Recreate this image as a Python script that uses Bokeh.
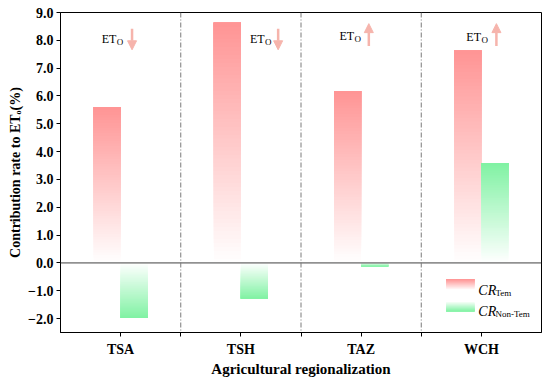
from bokeh.plotting import figure
from bokeh.models import (Range1d, FixedTicker, CustomJSTickFormatter, Span, Label,
                          Arrow, NormalHead, ColumnDataSource)
from bokeh.embed import file_html
from bokeh.resources import INLINE

# ---------------- data ----------------
regions = ["TSA", "TSH", "TAZ", "WCH"]
cr_tem = [5.60, 8.63, 6.18, 7.63]
cr_non_tem = [-1.98, -1.28, -0.12, 3.59]
eto_trend = ["down", "down", "up", "up"]
y_ticks = [-2, -1, 0, 1, 2, 3, 4, 5, 6, 7, 8, 9]

# ---------------- style ----------------
RED = (255, 148, 148)
GREEN = (128, 242, 163)
ARROW_C = "#F6B4AC"
FONT = "Liberation Serif"
BAR_W = 0.225
N = 60

p = figure(width=550, height=382, x_range=Range1d(0, 4), y_range=Range1d(-2.5, 9.0),
           output_backend="svg", toolbar_location=None,
           min_border_left=60, min_border_right=9, min_border_top=12, min_border_bottom=50)
p.grid.visible = False
p.outline_line_color = "black"
p.outline_line_width = 1
p.outline_line_alpha = 1
p.background_fill_color = "white"
p.border_fill_color = "white"


def mix(rgb, t):
    r = int(round(255 + (rgb[0] - 255) * t))
    g = int(round(255 + (rgb[1] - 255) * t))
    b = int(round(255 + (rgb[2] - 255) * t))
    return "#%02x%02x%02x" % (r, g, b)


def gradient(rows, left, right, y_white, y_solid, rgb, n=N, t0=0.0):
    for i in range(n):
        t = t0 + (1 - t0) * (i + 0.5) / n
        yb = y_white + (y_solid - y_white) * i / n
        rows["left"].append(left)
        rows["right"].append(right)
        rows["bottom"].append(min(yb, y_solid))
        rows["top"].append(max(yb, y_solid))
        rows["color"].append(mix(rgb, t))


rows = dict(left=[], right=[], bottom=[], top=[], color=[])
for k, vt in enumerate(cr_tem):
    c = k + 0.5
    gradient(rows, c - BAR_W, c, 0.0, vt, RED)
for k, vn in enumerate(cr_non_tem):
    c = k + 0.5
    gradient(rows, c, c + BAR_W, 0.0, vn, GREEN)

# legend swatches
gradient(rows, 3.208, 3.442, -0.95, -0.59, RED, n=30, t0=0.05)
gradient(rows, 3.208, 3.442, -1.40, -1.74, GREEN, n=30, t0=0.05)

p.quad(left="left", right="right", bottom="bottom", top="top", fill_color="color",
       line_color=None, source=ColumnDataSource(rows))

# zero line and separators
p.add_layout(Span(location=0, dimension="width", line_color="#404040", line_width=1))
for s in [1, 2, 3]:
    p.add_layout(Span(location=s, dimension="height", line_color="#7a7a7a",
                      line_width=1, line_dash="5 2 1 2"))

# axes
p.xaxis.ticker = FixedTicker(ticks=[0.5, 1, 1.5, 2, 2.5, 3, 3.5])
p.xaxis.formatter = CustomJSTickFormatter(args=dict(labels=regions), code="""
const i = tick - 0.5;
return Number.isInteger(i) ? labels[i] : '';
""")
p.yaxis.ticker = FixedTicker(ticks=y_ticks)
p.yaxis.formatter = CustomJSTickFormatter(code="return tick.toFixed(1).replace('-', '\\u2212');")
for ax in (p.xaxis[0], p.yaxis[0]):
    ax.axis_line_color = "black"
    ax.axis_line_width = 1
    ax.major_tick_line_color = "black"
    ax.major_tick_out = 4
    ax.major_tick_in = 0
    ax.minor_tick_line_color = None
    ax.major_label_text_font = FONT
    ax.major_label_text_font_style = "bold"
    ax.major_label_text_font_size = "14px"
    ax.major_label_text_color = "black"
    ax.axis_label_text_font = FONT
    ax.axis_label_text_font_style = "bold"
    ax.axis_label_text_color = "black"
p.xaxis.major_label_standoff = 5
p.yaxis.major_label_standoff = 3
p.xaxis.axis_label = "Agricultural regionalization"
p.xaxis.axis_label_text_font_size = "15px"
p.xaxis.axis_label_standoff = 1
p.yaxis.axis_label = "Contribution rate to ET\u2092(%)"
p.yaxis.axis_label_text_font_size = "14px"
p.yaxis.axis_label_standoff = 2

# ET_O trend annotations
et_x = [0.342, 1.575, 2.32, 3.375]
et_y = [8.03, 8.04, 8.17, 8.11]
arrow_x = [0.595, 1.81, 2.564, 3.625]
for k in range(len(regions)):
    p.add_layout(Label(x=et_x[k], y=et_y[k], text="ET", text_font=FONT,
                       text_font_size="12px", text_color="black", text_baseline="alphabetic"))
    p.add_layout(Label(x=et_x[k] + 15 / 120, y=et_y[k] - 3 / 27.83, text="O", text_font=FONT,
                       text_font_size="9px", text_color="black", text_baseline="alphabetic"))
    if eto_trend[k] == "down":
        y0, y1 = 8.42, 7.66
    else:
        y0, y1 = 7.80, 8.60
    p.add_layout(Arrow(end=NormalHead(size=9, fill_color=ARROW_C, line_color=ARROW_C),
                       x_start=arrow_x[k], y_start=y0, x_end=arrow_x[k], y_end=y1,
                       line_color=ARROW_C, line_width=2.5))

# legend texts
for yb, sub in [(-0.99, "Tem"), (-1.74, "Non-Tem")]:
    p.add_layout(Label(x=3.475, y=yb, text="CR", text_font=FONT, text_font_style="italic",
                       text_font_size="14px", text_color="black", text_baseline="alphabetic"))
    p.add_layout(Label(x=3.475 + 17 / 120, y=yb - 3 / 27.83, text=sub, text_font=FONT,
                       text_font_size="9px", text_color="black", text_baseline="alphabetic"))

open("out.html", "w").write(file_html(p, INLINE))
